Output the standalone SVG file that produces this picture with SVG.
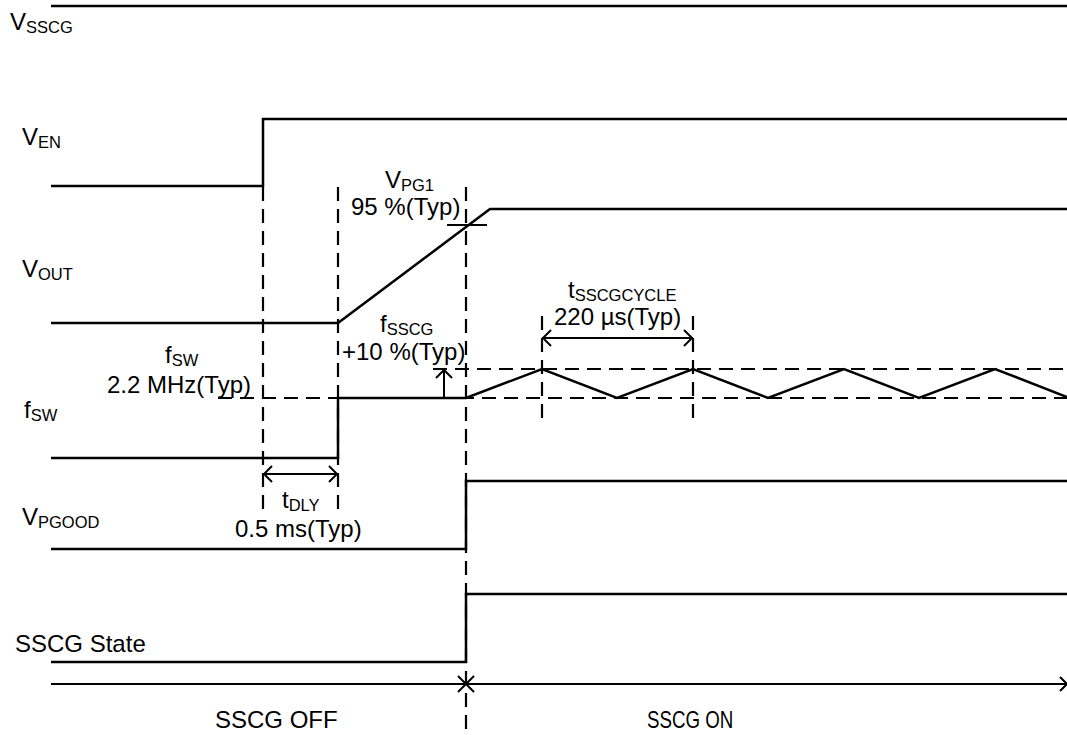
<svg xmlns="http://www.w3.org/2000/svg" width="1067" height="735" viewBox="0 0 1067 735">
<style>
text{font-family:"Liberation Sans",Arial,sans-serif;font-size:24px;fill:#000}
.sub{font-size:16.5px}
.sig{fill:none;stroke:#000;stroke-width:2.5}
.dash{fill:none;stroke:#000;stroke-width:2.2;stroke-dasharray:14 8}
.arr{fill:none;stroke:#000;stroke-width:2}
</style>
<rect width="1067" height="735" fill="#fff"/>
<g id="vsscg">
<path class="sig" d="M51,6H1067"/>
<text x="10" y="30">V<tspan class="sub" dy="3">SSCG</tspan></text>
</g>
<g id="ven">
<path class="sig" d="M51,186H263V119H1067"/>
<text x="22" y="145">V<tspan class="sub" dy="3">EN</tspan></text>
</g>
<g id="vout">
<path class="sig" d="M51,323H338L490,209H1067"/>
<text x="22" y="277">V<tspan class="sub" dy="3">OUT</tspan></text>
</g>
<g id="fsw">
<path class="sig" d="M51,458H338V398H466L542,369L617,398L693,369L768,398L844,369L919,398L995,369L1067,397"/>
<text x="24" y="418">f<tspan class="sub" dy="3">SW</tspan></text>
</g>
<g id="vpgood">
<path class="sig" d="M51,549H466V481H1067"/>
<text x="22" y="525">V<tspan class="sub" dy="3">PGOOD</tspan></text>
</g>
<g id="sscgstate">
<path class="sig" d="M51,662H466V594H1067"/>
<text x="15" y="652">SSCG State</text>
</g>
<g id="timeline">
<path class="arr" d="M51,684H1067M1060,677L1067,684L1060,691M458,676L474,692M474,676L458,692"/>
<text x="215" y="728">SSCG OFF</text>
<text transform="translate(647,728) scale(0.78,1)">SSCG ON</text>
</g>
<g id="connectors">
<path class="dash" d="M263,187V512"/>
<path class="dash" d="M338,187V512"/>
<path class="dash" d="M466,187V735"/>
<path class="dash" d="M218,398H1067"/>
<path class="dash" d="M433,369H1067"/>
<path class="dash" d="M542,316V424"/>
<path class="dash" d="M693,316V424"/>
<path class="arr" d="M447,225H487"/>
<path class="arr" d="M263,474H338M272,466L264,474L272,482M329,466L337,474L329,482"/>
<path class="arr" d="M542,338H693M551,330L543,338L551,346M684,330L692,338L684,346"/>
<path class="arr" d="M444,398V370M436,378L444,370L452,378"/>
</g>
<g id="annotations">
<text x="385" y="188">V<tspan class="sub" dy="3">PG1</tspan></text>
<text x="351" y="215">95 %(Typ)</text>
<text x="380" y="332">f<tspan class="sub" dy="3">SSCG</tspan></text>
<text x="342" y="360">+10 %(Typ)</text>
<text x="568" y="298">t<tspan class="sub" dy="3">SSCGCYCLE</tspan></text>
<text x="554" y="325">220 µs(Typ)</text>
<text x="165" y="363">f<tspan class="sub" dy="3">SW</tspan></text>
<text x="107" y="393">2.2 MHz(Typ)</text>
<text x="282" y="508">t<tspan class="sub" dy="3">DLY</tspan></text>
<text x="235" y="537">0.5 ms(Typ)</text>
</g>
</svg>
